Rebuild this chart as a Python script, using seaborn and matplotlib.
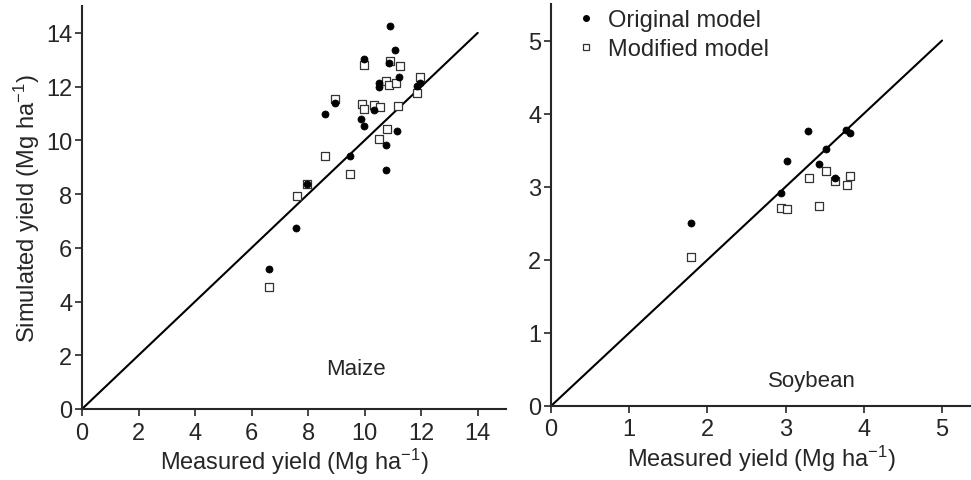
import matplotlib
matplotlib.use("Agg")
import matplotlib.pyplot as plt
import seaborn as sns
import pandas as pd
from matplotlib.lines import Line2D

sns.set_theme(style="ticks")
plt.rcParams['font.family'] = ['Liberation Sans', 'DejaVu Sans']
plt.rcParams['mathtext.default'] = 'regular'

# Maize data (measured, simulated)
maize_orig_x = [10.88, 11.06, 9.96, 10.85, 11.23, 10.49, 10.49, 11.85, 11.97, 8.95, 8.59,
                10.32, 9.88, 9.96, 11.16, 10.77, 9.47, 10.77, 7.95, 7.57, 6.61]
maize_orig_y = [14.27, 13.38, 13.01, 12.87, 12.36, 12.15, 11.98, 12.02, 12.15, 11.39, 10.99,
                11.12, 10.80, 10.55, 10.33, 9.84, 9.43, 8.91, 8.38, 6.73, 5.21]
maize_mod_x = [9.96, 10.90, 11.24, 11.97, 11.85, 10.77, 10.86, 11.10, 8.95, 9.90, 9.98,
               10.34, 10.53, 11.17, 10.78, 10.52, 8.60, 9.49, 7.95, 7.59, 6.63]
maize_mod_y = [12.81, 12.95, 12.77, 12.36, 11.77, 12.22, 12.06, 12.12, 11.55, 11.34, 11.15,
               11.31, 11.25, 11.26, 10.41, 10.06, 9.41, 8.73, 8.38, 7.92, 4.53]

# Soybean data
soy_orig_x = [3.29, 3.77, 3.82, 3.52, 3.02, 3.43, 3.63, 2.94, 1.79]
soy_orig_y = [3.76, 3.78, 3.74, 3.52, 3.35, 3.31, 3.12, 2.92, 2.50]
soy_mod_x = [3.52, 3.30, 3.63, 3.82, 3.78, 2.94, 3.02, 3.43, 1.79]
soy_mod_y = [3.21, 3.12, 3.08, 3.14, 3.02, 2.71, 2.69, 2.74, 2.04]

maize_line = [0, 14]
soy_line = [0, 5]
maize_ticks = [0, 2, 4, 6, 8, 10, 12, 14]
soy_ticks = [0, 1, 2, 3, 4, 5]

fig = plt.figure(figsize=(9.71, 4.81), dpi=100)
ax1 = fig.add_axes([82/971, 1-410/481, (506-82)/971, (410-7)/481])
ax2 = fig.add_axes([551/971, 1-407/481, (971-551)/971, (407-5)/481])

FS = 17
circ_kw = dict(marker='o', color='black', edgecolor='black', s=26, linewidth=0.5, zorder=3)
sq_kw = dict(marker='s', color='white', edgecolor='#333333', s=34, linewidth=0.9, zorder=3)

def panel(ax, ox, oy, mx, my, line, ticks, xlim, ylim, label, lx, ly):
    ax.plot(line, line, color='black', linewidth=1.5, zorder=2)
    sns.scatterplot(x=mx, y=my, ax=ax, **sq_kw)
    sns.scatterplot(x=ox, y=oy, ax=ax, **circ_kw)
    ax.set_xlim(*xlim)
    ax.set_ylim(*ylim)
    ax.set_xticks(ticks)
    ax.set_yticks(ticks)
    ax.tick_params(axis='both', labelsize=FS, length=5, width=1.2, direction='out', pad=2)
    ax.tick_params(axis='x', pad=4)
    for s in ['top', 'right']:
        ax.spines[s].set_visible(False)
    for s in ['left', 'bottom']:
        ax.spines[s].set_linewidth(1.5)
    ax.set_xlabel('Measured yield (Mg ha$^{-1}$)', fontsize=FS, labelpad=2)
    ax.text(lx, ly, label, fontsize=FS - 1, ha='center', va='center')
    ax.grid(False)

panel(ax1, maize_orig_x, maize_orig_y, maize_mod_x, maize_mod_y, maize_line, maize_ticks,
      (0, 15), (0, 15), 'Maize', 9.7, 1.5)
ax1.set_ylabel('Simulated yield (Mg ha$^{-1}$)', fontsize=FS, labelpad=3)

panel(ax2, soy_orig_x, soy_orig_y, soy_mod_x, soy_mod_y, soy_line, soy_ticks,
      (0, 5.37), (0, 5.5), 'Soybean', 3.34, 0.35)

handles = [
    Line2D([], [], marker='o', color='black', linestyle='none', markersize=4),
    Line2D([], [], marker='s', markerfacecolor='white', markeredgecolor='#333333',
           linestyle='none', markersize=5, markeredgewidth=0.9),
]
ax2.legend(handles, ['Original model', 'Modified model'], loc='upper left',
           bbox_to_anchor=(0.0, 1.04), frameon=False, fontsize=FS, handletextpad=0.3,
           labelspacing=0.3, handlelength=1.2)

fig.savefig('out.png', dpi=100)
